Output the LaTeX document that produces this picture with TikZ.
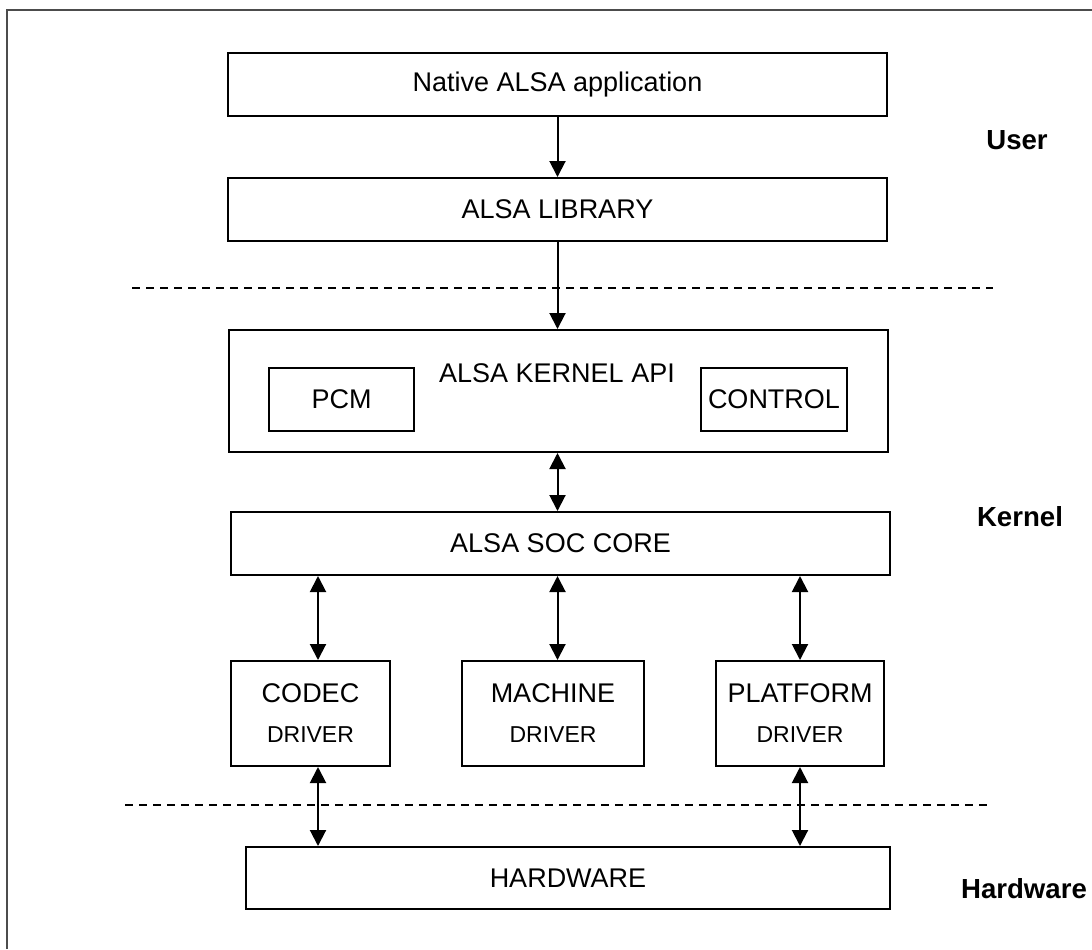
\documentclass[tikz,border=0pt]{standalone}
\usepackage{fontspec}
\setmainfont{Liberation Sans}
\usetikzlibrary{arrows.meta}
\newcommand{\drvfont}{\fontsize{11.5}{14}\selectfont}
\begin{document}
\begin{tikzpicture}[x=0.5pt,y=-0.5pt,
        box/.style={draw,line width=1pt,inner sep=0pt,font=\fontsize{13.5}{16}\selectfont,align=center},
        wide/.style={box,minimum width=329.5pt,minimum height=31.5pt},
        small/.style={box,minimum width=72.5pt,minimum height=31.5pt},
        drv/.style={box,minimum height=52.5pt},
        layer/.style={font=\bfseries\fontsize{13.8}{16}\selectfont},
        arr/.style={line width=1pt,-{Triangle[width=8pt,length=8pt]}},
        biarr/.style={line width=1pt,{Triangle[width=8pt,length=8pt]}-{Triangle[width=8pt,length=8pt]}},
        sep/.style={line width=0.9pt,dash pattern=on 4pt off 3pt}]
    \useasboundingbox (0,0) rectangle (1092,949);
    \draw[line width=1pt,black!70] (7,949) -- (7,10) -- (1092,10);
    % user space
    \node[wide] (app) at (557.5,84.5) {Native ALSA application};
    \node[wide] (lib) at (557.5,209.5) {ALSA LIBRARY};
    \draw[sep] (132,288) -- (993,288);
    % kernel
    \node[wide,minimum height=61pt] (api) at (558.5,391) {};
    \node[font=\fontsize{13.5}{16}\selectfont] (apititle) at (557,373) {ALSA KERNEL API};
    \node[small] (pcm) at (341.5,399.5) {PCM};
    \node[small,minimum width=73pt] (ctl) at (774,399.5) {CONTROL};
    \node[wide] (soc) at (560.5,543.5) {ALSA SOC CORE};
    \node[drv,minimum width=79.5pt] (codec) at (310.5,713.5) {CODEC\\[4pt]{\drvfont DRIVER}};
    \node[drv,minimum width=91pt] (machine) at (553,713.5) {MACHINE\\[4pt]{\drvfont DRIVER}};
    \node[drv,minimum width=84pt] (platform) at (800,713.5) {PLATFORM\\[4pt]{\drvfont DRIVER}};
    \draw[sep] (125,805) -- (988,805);
    % hardware
    \node[wide,minimum width=322pt,minimum height=31pt] (hw) at (568,878) {HARDWARE};
    % layer names
    \node[layer] (user) at (1017,140) {User};
    \node[layer] (kernel) at (1020,517) {Kernel};
    \node[layer] (hard) at (1024,889) {Hardware};
    % connectors
    \draw[arr] (app.south) -- (lib.north);
    \draw[arr] (lib.south) -- (lib.south |- api.north);
    \draw[biarr] (api.south -| lib.south) -- (soc.north -| lib.south);
    \draw[biarr] ([xshift=3.75pt]codec.north |- soc.south) -- ([xshift=3.75pt]codec.north);
    \draw[biarr] (machine.north -| lib.south) -- (soc.south -| lib.south);
    \draw[biarr] (platform.north |- soc.south) -- (platform.north);
    \draw[biarr] ([xshift=3.75pt]codec.south) -- ([xshift=3.75pt]codec.south |- hw.north);
    \draw[biarr] (platform.south) -- (platform.south |- hw.north);
\end{tikzpicture}
\end{document}
